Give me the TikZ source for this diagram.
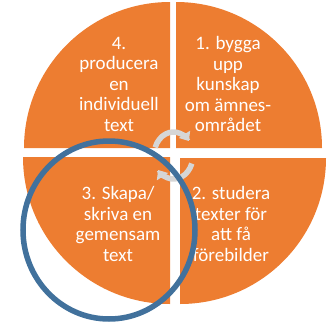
\documentclass[tikz,border=0pt]{standalone}
\usepackage{fontspec}
\setmainfont{Carlito}
\usepackage{xcolor}
\usepackage{tikz}
\usetikzlibrary{arrows.meta,positioning}
\definecolor{orangeq}{HTML}{ED7D31}
\definecolor{ringblue}{HTML}{41719C}
\definecolor{turngray}{HTML}{D6D6D6}

\begin{document}
\begin{tikzpicture}[x=1pt,y=1pt,
                          quarter/.style={fill=orangeq},
                          phase/.style={text=white, align=center, font=\fontsize{19}{20.5}\selectfont},
                          turn/.style={line width=5.5pt, turngray, -{Triangle[width=13pt,length=8pt]}},
                          ring/.style={line width=5.5pt, ringblue},
                         ]

\useasboundingbox (0,0) rectangle (332,325);

\coordinate (tl) at (170,177);
\coordinate (tr) at (176,177);
\coordinate (bl) at (170,168);
\coordinate (br) at (180,167);
\coordinate (mid) at (173.5,169.5);

\fill[quarter] (tl) -- ++(-146,0) arc[start angle=180, end angle=90, radius=146pt] -- cycle;
\fill[quarter] (tr) -- ++(146,0) arc[start angle=0, end angle=90, radius=146pt] -- cycle;
\fill[quarter] (bl) -- ++(-147,0) arc[start angle=180, end angle=270, radius=147pt] -- cycle;
\fill[quarter] (br) -- ++(146,0) arc[start angle=0, end angle=-90, radius=146pt] -- cycle;

\node[phase] (fyra) at (119,241) {4.\\producera\\en\\individuell\\text};
\node[phase] (ett) at (228,241) {1. bygga\\upp\\kunskap\\om ämnes-\\området};
\node[phase] (tre) at (118,101) {3. Skapa/\\skriva en\\gemensam\\text};
\node[phase] (tva) at (231,101) {2. studera\\texter för\\att få\\förebilder};

\draw[turn] (mid) ++(160:19.5pt and 23.5pt) arc[start angle=160, end angle=38, x radius=19.5pt, y radius=23.5pt];
\draw[turn] (mid) ++(-20:19.5pt and 23.5pt) arc[start angle=-20, end angle=-142, x radius=19.5pt, y radius=23.5pt];

\draw[ring] (109,95) ellipse[x radius=86pt, y radius=89pt];

\end{tikzpicture}
\end{document}
